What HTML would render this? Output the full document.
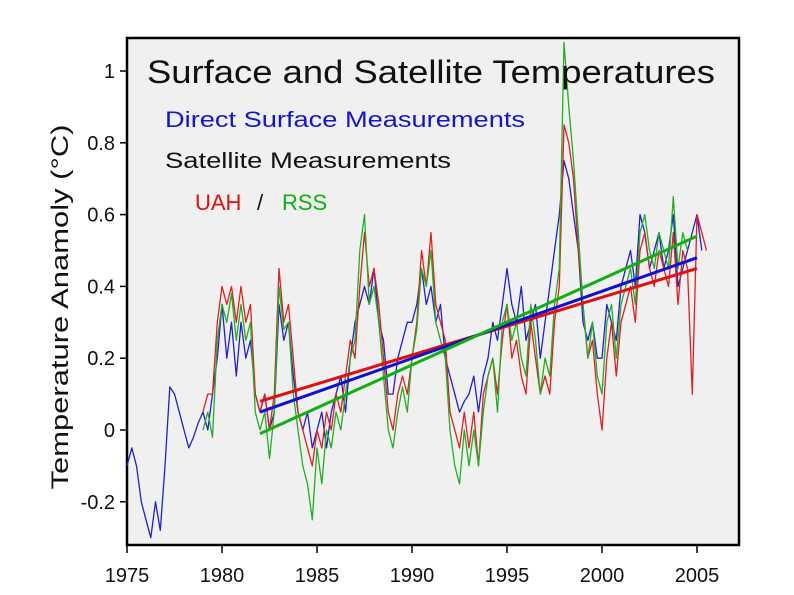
<!DOCTYPE html>
<html><head><meta charset="utf-8"><style>
body{margin:0;background:#fff;}
svg{display:block;font-family:"Liberation Sans",sans-serif;}
</style></head><body>
<svg id="chart" width="794" height="595" viewBox="0 0 794 595" xmlns="http://www.w3.org/2000/svg">
<rect x="127" y="38" width="612" height="507" fill="#f0f0f0" stroke="#000" stroke-width="2.5"/>
<g id="axes"></g>
<g id="series"></g>
<text x="147" y="83" font-size="32" textLength="568" lengthAdjust="spacingAndGlyphs" fill="#111">Surface and Satellite Temperatures</text>
<text x="165" y="127" font-size="22" textLength="360" lengthAdjust="spacingAndGlyphs" fill="#1515d0">Direct Surface Measurements</text>
<text x="165" y="168" font-size="22" textLength="286" lengthAdjust="spacingAndGlyphs" fill="#111">Satellite Measurements</text>
<text x="195" y="210" font-size="22" fill="#e01010">UAH</text>
<text x="257" y="210" font-size="22" fill="#111">/</text>
<text x="282" y="210" font-size="22" fill="#10b010">RSS</text>
<text transform="translate(68,307) rotate(-90)" text-anchor="middle" font-size="24" textLength="365" lengthAdjust="spacingAndGlyphs" fill="#111">Temperature Anamoly (°C)</text>
</svg>
<script>
const xTicks=[1975,1980,1985,1990,1995,2000,2005];
const yTicks=[-0.2,0,0.2,0.4,0.6,0.8,1];
const yTickLabels=["-0.2","0","0.2","0.4","0.6","0.8","1"];
const surfaceStart=1975;
const surface=[-0.1,-0.05,-0.1,-0.2,-0.25,-0.3,-0.2,-0.28,-0.1,0.12,0.1,0.05,0.0,-0.05,-0.02,0.02,0.05,0.0,0.1,0.2,0.35,0.2,0.3,0.15,0.3,0.2,0.25,0.1,0.05,0.1,0.0,0.05,0.35,0.25,0.3,0.15,0.05,0.0,0.05,-0.05,0.0,0.05,-0.05,0.05,0.1,0.15,0.05,0.2,0.3,0.35,0.4,0.35,0.45,0.3,0.25,0.1,0.1,0.2,0.25,0.3,0.3,0.35,0.45,0.35,0.4,0.3,0.35,0.2,0.15,0.1,0.05,0.08,0.1,0.15,0.05,0.15,0.2,0.3,0.25,0.35,0.45,0.35,0.3,0.4,0.25,0.3,0.35,0.2,0.3,0.4,0.5,0.6,0.75,0.7,0.6,0.5,0.3,0.25,0.3,0.2,0.2,0.35,0.3,0.25,0.4,0.45,0.5,0.4,0.6,0.55,0.45,0.5,0.55,0.45,0.5,0.6,0.4,0.45,0.5,0.55,0.6,0.5];
const uahStart=1979;
const uah=[0.05,0.1,0.1,0.3,0.4,0.35,0.4,0.3,0.4,0.3,0.35,0.1,0.05,0.1,0.0,0.1,0.45,0.3,0.35,0.2,0.05,0.0,-0.05,-0.1,0.0,-0.05,0.05,0.0,0.1,0.05,0.15,0.25,0.2,0.4,0.55,0.4,0.45,0.35,0.2,0.05,0.0,0.1,0.15,0.1,0.2,0.3,0.5,0.4,0.55,0.35,0.3,0.25,0.05,0.0,-0.05,0.05,-0.05,0.05,-0.1,0.1,0.15,0.2,0.1,0.25,0.35,0.2,0.25,0.15,0.1,0.3,0.2,0.1,0.15,0.1,0.3,0.4,0.85,0.8,0.7,0.5,0.35,0.2,0.25,0.1,0.0,0.2,0.3,0.15,0.3,0.35,0.4,0.3,0.5,0.55,0.45,0.4,0.5,0.45,0.4,0.55,0.35,0.5,0.45,0.1,0.6,0.55,0.5];
const rssStart=1979;
const rss=[0.0,0.05,-0.02,0.25,0.35,0.3,0.38,0.25,0.35,0.25,0.3,0.05,0.0,0.05,-0.08,0.05,0.4,0.28,0.3,0.1,0.0,-0.1,-0.15,-0.25,-0.05,-0.15,0.0,-0.05,0.05,0.0,0.1,0.2,0.25,0.5,0.6,0.35,0.4,0.3,0.15,0.0,-0.05,0.05,0.12,0.05,0.2,0.28,0.45,0.4,0.5,0.3,0.25,0.2,0.0,-0.1,-0.15,0.0,-0.1,0.0,-0.1,0.05,0.15,0.2,0.05,0.3,0.35,0.25,0.3,0.2,0.15,0.35,0.25,0.1,0.2,0.15,0.35,0.45,1.08,0.9,0.75,0.55,0.35,0.2,0.3,0.15,0.1,0.3,0.35,0.2,0.35,0.4,0.45,0.35,0.55,0.6,0.5,0.45,0.55,0.5,0.45,0.65,0.45,0.55,0.5];
const trendYears=[1982,2005];
const trendUah=[0.08,0.45];
const trendSurface=[0.05,0.48];
const trendRss=[-0.01,0.54];

const NS="http://www.w3.org/2000/svg";
function xs(v){return 127+(v-1975)*19;}
function ys(v){return 430-v*359;}
const axes=document.getElementById('axes');
const ser=document.getElementById('series');
function mk(tag,attrs,parent){const e=document.createElementNS(NS,tag);for(const k in attrs)e.setAttribute(k,attrs[k]);parent.appendChild(e);return e;}
xTicks.forEach(t=>{
  const l=mk('line',{x1:xs(t),x2:xs(t),y1:545,y2:553,stroke:'#000','stroke-width':1.5},axes);
  
  
  const tx=mk('text',{x:xs(t),y:582,'text-anchor':'middle','font-size':20,fill:'#111'},axes);
  tx.textContent=t;
  
  
});
yTicks.forEach((t,i)=>{
  const l=mk('line',{x1:120,x2:127,y1:ys(t),y2:ys(t),stroke:'#000','stroke-width':1.5},axes);
  
  
  const tx=mk('text',{x:115,y:ys(t)+7,'text-anchor':'end','font-size':20,fill:'#111'},axes);
  tx.textContent=yTickLabels[i];
  
  
});
function series(arr,start,color,name){
  const pts=arr.map((v,i)=>xs(start+i*0.25).toFixed(1)+','+ys(v).toFixed(1)).join(' ');
  const p=mk('polyline',{points:pts,fill:'none',stroke:color,'stroke-width':1.3,'stroke-linejoin':'round'},ser);
  
  
}
series(surface,surfaceStart,'#2020d0','surface-series');
series(uah,uahStart,'#e02020','uah-series');
series(rss,rssStart,'#20b020','rss-series');
function trend(vals,color,name){
  const l=mk('line',{x1:xs(trendYears[0]),y1:ys(vals[0]),x2:xs(trendYears[1]),y2:ys(vals[1]),stroke:color,'stroke-width':3},ser);
  
  
}
trend(trendUah,'#e01010','uah-trend');
trend(trendSurface,'#1010d0','surface-trend');
trend(trendRss,'#10b010','rss-trend');
</script>
</body></html>
